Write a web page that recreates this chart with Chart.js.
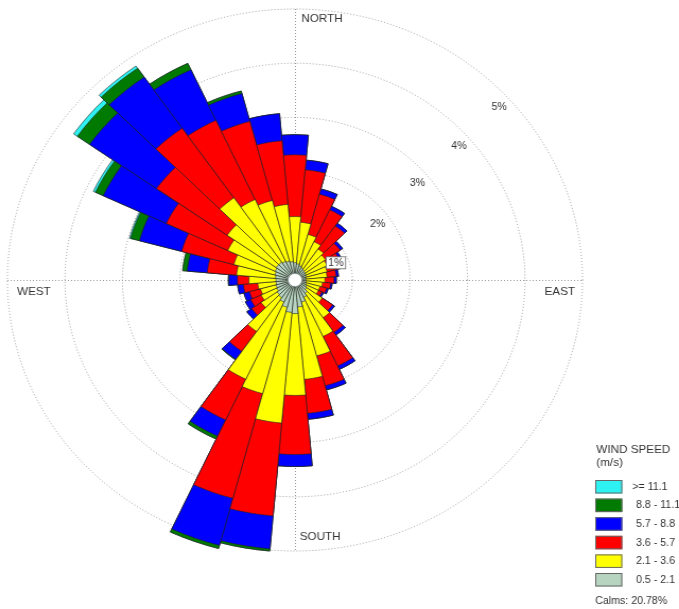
<!DOCTYPE html>
<html>
<head>
<meta charset="utf-8">
<title>Wind Rose</title>
<script src="https://cdn.jsdelivr.net/npm/chart.js@4.4.1/dist/chart.umd.min.js"></script>
<style>
  html, body { margin: 0; padding: 0; background: #fff; overflow: hidden; }
  /* the rose is drawn a little wider than tall */
  #wrap { width: 640px; height: 609px; transform: scaleX(1.061); transform-origin: 0 0; }
</style>
</head>
<body>
<div id="wrap"><canvas id="rose"></canvas></div>
<script>
// 36 sectors, clockwise from north
const directions = ['N', '10°', '20°', '30°', '40°', '50°', '60°', '70°', '80°', 'E',
                    '100°', '110°', '120°', '130°', '140°', '150°', '160°', '170°', 'S',
                    '190°', '200°', '210°', '220°', '230°', '240°', '250°', '260°', 'W',
                    '280°', '290°', '300°', '310°', '320°', '330°', '340°', '350°'];

// frequency (%) per speed class and direction
const speed05to21 = [0.32, 0.30, 0.27, 0.25, 0.23, 0.22, 0.21, 0.20, 0.19, 0.19,
                     0.19, 0.20, 0.22, 0.25, 0.30, 0.35, 0.42, 0.50, 0.62,
                     0.60, 0.52, 0.45, 0.40, 0.38, 0.35, 0.34, 0.33, 0.33,
                     0.34, 0.36, 0.38, 0.40, 0.40, 0.38, 0.36, 0.34];
const speed21to36 = [0.85, 0.77, 0.60, 0.53, 0.47, 0.43, 0.41, 0.38, 0.37, 0.33,
                     0.29, 0.25, 0.23, 0.33, 0.55, 0.80, 1.03, 1.34, 1.51,
                     2.05, 1.65, 1.57, 0.76, 0.34, 0.30, 0.28, 0.32, 0.47,
                     0.68, 0.74, 0.91, 1.04, 1.45, 1.26, 1.16, 1.06];
const speed36to57 = [1.14, 0.97, 0.77, 0.65, 0.52, 0.31, 0.24, 0.20, 0.16, 0.16,
                     0.14, 0.12, 0.07, 0.22, 0.33, 0.60, 0.57, 0.63, 1.09,
                     1.72, 2.00, 0.83, 0.45, 0.20, 0.20, 0.20, 0.25, 0.20,
                     0.51, 0.94, 1.18, 1.50, 1.57, 1.61, 1.51, 1.18];
const speed57to88 = [0.37, 0.18, 0.10, 0.07, 0.06, 0.05, 0.04, 0.04, 0.04, 0.04,
                     0.03, 0.03, 0.03, 0.04, 0.06, 0.07, 0.08, 0.11, 0.22,
                     0.61, 0.90, 0.33, 0.18, 0.10, 0.10, 0.10, 0.10, 0.15,
                     0.35, 0.76, 1.21, 1.42, 1.15, 1.03, 0.53, 0.50];
const speed88to111 = [0, 0, 0, 0, 0, 0, 0, 0, 0, 0,
                      0, 0, 0, 0, 0, 0, 0, 0, 0,
                      0.04, 0.06, 0.06, 0.01, 0, 0, 0, 0, 0.01,
                      0.08, 0.16, 0.15, 0.26, 0.20, 0.13, 0.05, 0];
const speedOver111 = [0, 0, 0, 0, 0, 0, 0, 0, 0, 0,
                      0, 0, 0, 0, 0, 0, 0, 0, 0,
                      0, 0, 0, 0, 0, 0, 0, 0, 0,
                      0, 0.02, 0.04, 0.08, 0.05, 0, 0, 0];

const ringTicks = [1, 2, 3, 4, 5];
const calmsPercent = 20.78;

const speedClasses = [
  { label: '0.5 - 2.1', values: speed05to21, color: '#b7d4c1' },
  { label: '2.1 - 3.6', values: speed21to36, color: '#ffff00' },
  { label: '3.6 - 5.7', values: speed36to57, color: '#ff0000' },
  { label: '5.7 - 8.8', values: speed57to88, color: '#0000ff' },
  { label: '8.8 - 11.1', values: speed88to111, color: '#007a00' },
  { label: '>= 11.1', values: speedOver111, color: '#2ef2f2' }
];

// stack the classes: each dataset holds the running total, the smallest one is drawn on top
let running = directions.map(() => 0);
const datasets = speedClasses.map(cls => {
  running = running.map((v, i) => v + cls.values[i]);
  return {
    label: cls.label,
    data: running.slice(),
    backgroundColor: cls.color,
    borderColor: '#222',
    borderWidth: 0.6,
    clip: false
  };
});

const FONT = '"Liberation Sans", Arial, sans-serif';

const roseDecor = {
  id: 'roseDecor',
  beforeDatasetsDraw(chart) {
    const ctx = chart.ctx;
    const r = chart.scales.r;
    const cx = r.xCenter, cy = r.yCenter, R = r.drawingArea;
    ctx.save();
    ctx.strokeStyle = '#9a9a9a';
    ctx.lineWidth = 1;
    ctx.setLineDash([1, 2]);
    ctx.beginPath();
    ctx.moveTo(cx - R, cy + 0.5);
    ctx.lineTo(cx + R, cy + 0.5);
    ctx.moveTo(cx + 0.5, cy - R);
    ctx.lineTo(cx + 0.5, cy + R);
    ctx.stroke();
    ctx.restore();
  },
  afterDatasetsDraw(chart) {
    const ctx = chart.ctx;
    const r = chart.scales.r;
    const cx = r.xCenter, cy = r.yCenter, R = r.drawingArea;
    ctx.save();

    // calms hole
    ctx.fillStyle = '#fff';
    ctx.strokeStyle = '#8a9a9a';
    ctx.lineWidth = 0.6;
    ctx.beginPath();
    ctx.arc(cx, cy, 6.5, 0, Math.PI * 2);
    ctx.fill();
    ctx.stroke();

    // ring percentages
    const labelAngles = [66, 54, 50, 49, 48];
    ctx.font = '10px ' + FONT;
    ctx.textAlign = 'center';
    ctx.textBaseline = 'middle';
    ringTicks.forEach((v, i) => {
      const d = r.getDistanceFromCenterForValue(v) - 12;
      const a = labelAngles[i] * Math.PI / 180;
      const x = cx + d * Math.sin(a);
      const y = cy - d * Math.cos(a);
      const text = v + '%';
      const w = ctx.measureText(text).width + 4;
      ctx.fillStyle = '#fff';
      ctx.fillRect(x - w / 2, y - 6, w, 12);
      if (i === 0) {
        ctx.strokeStyle = '#666';
        ctx.lineWidth = 0.8;
        ctx.strokeRect(x - w / 2, y - 6, w, 12);
      }
      ctx.fillStyle = '#333';
      ctx.fillText(text, x, y + 0.5);
    });

    // compass names
    ctx.font = '11px ' + FONT;
    ctx.fillStyle = '#333';
    ctx.textAlign = 'left';
    ctx.fillText('NORTH', cx + 6, cy - R + 9.5);
    ctx.fillText('SOUTH', cx + 4.5, cy + R - 14);
    ctx.fillText('WEST', cx - 262, cy + 12);
    ctx.textAlign = 'right';
    ctx.fillText('EAST', cx + 264, cy + 12);

    // legend
    const lx = 561, top = 480, step = 18.6;
    ctx.textAlign = 'left';
    ctx.fillText('WIND SPEED', lx + 1, 450);
    ctx.fillText('(m/s)', lx + 1, 463);
    ctx.font = '10px ' + FONT;
    speedClasses.slice().reverse().forEach((cls, i) => {
      const y = top + i * step;
      ctx.fillStyle = cls.color;
      ctx.fillRect(lx, y, 25.5, 13.5);
      ctx.strokeStyle = '#666';
      ctx.lineWidth = 1;
      ctx.strokeRect(lx + 0.5, y + 0.5, 24.5, 12.5);
      ctx.fillStyle = '#333';
      ctx.fillText(cls.label, i === 0 ? 596 : 599.5, y + 7);
    });
    ctx.fillText('Calms: ' + calmsPercent.toFixed(2) + '%', lx, 601);

    ctx.restore();
  }
};

new Chart(document.getElementById('rose'), {
  type: 'polarArea',
  data: { labels: directions, datasets: datasets },
  options: {
    responsive: true,
    maintainAspectRatio: false,
    animation: false,
    events: [],
    layout: { padding: { top: 9, left: 7, right: 91, bottom: 58 } },
    plugins: { legend: { display: false }, tooltip: { enabled: false } },
    scales: {
      r: {
        min: 0,
        max: 5,
        startAngle: -5,
        ticks: { display: false, stepSize: 1 },
        grid: { circular: true, color: '#9a9a9a', lineWidth: 1 },
        border: { dash: [1, 2] },
        angleLines: { display: false },
        pointLabels: { display: false }
      }
    }
  },
  plugins: [roseDecor]
});
</script>
</body>
</html>
